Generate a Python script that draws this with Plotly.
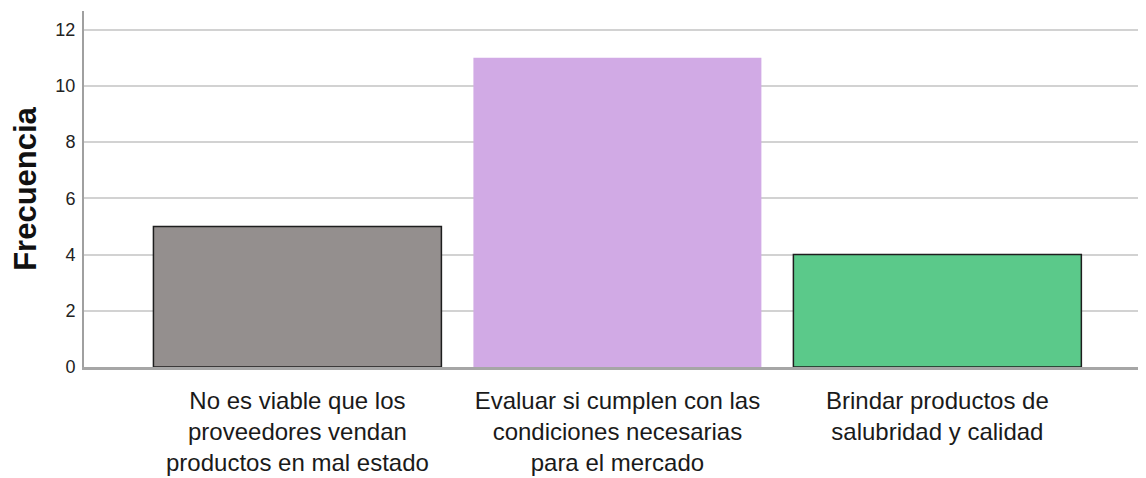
import plotly.graph_objects as go

categories = [
    "No es viable que los<br>proveedores vendan<br>productos en mal estado",
    "Evaluar si cumplen con las<br>condiciones necesarias<br>para el mercado",
    "Brindar productos de<br>salubridad y calidad",
]
values = [5, 11, 4]
bar_colors = ["#948f8e", "#d1aae5", "#5bc98a"]
outline_colors = ["#1e1e1e", "#d1aae5", "#1e1e1e"]
outline_widths = [1.5, 0, 1.5]
y_ticks = [0, 2, 4, 6, 8, 10, 12]

fig = go.Figure(
    go.Bar(
        x=categories,
        y=values,
        width=0.9,
        marker=dict(color=bar_colors, line=dict(color=outline_colors, width=outline_widths)),
    )
)

fig.update_layout(
    width=1138,
    height=470,
    margin=dict(l=76, r=0, t=3, b=111),
    paper_bgcolor="white",
    plot_bgcolor="white",
    showlegend=False,
    font=dict(family="Liberation Sans, Arial, sans-serif", color="#222222"),
)

fig.update_xaxes(
    range=[-0.667, 2.652],
    showgrid=False,
    showline=True,
    linecolor="#a6a6a6",
    linewidth=3,
    ticks="",
    ticklabelstandoff=10,
    tickfont=dict(size=24, color="#1a1a1a"),
    zeroline=False,
)

fig.update_yaxes(
    range=[0, 12.66],
    tickvals=y_ticks,
    ticks="",
    ticklabelstandoff=3,
    showgrid=True,
    gridcolor="#d2d2d2",
    gridwidth=2,
    showline=True,
    linecolor="#a0a0a0",
    linewidth=2,
    zeroline=False,
    tickfont=dict(size=18, family="Liberation Sans Narrow, Liberation Sans, Arial", color="#222222"),
    title=dict(text="<b>Frecuencia</b>", font=dict(size=31, color="#111111"), standoff=22),
)

fig.write_html("out.html")
